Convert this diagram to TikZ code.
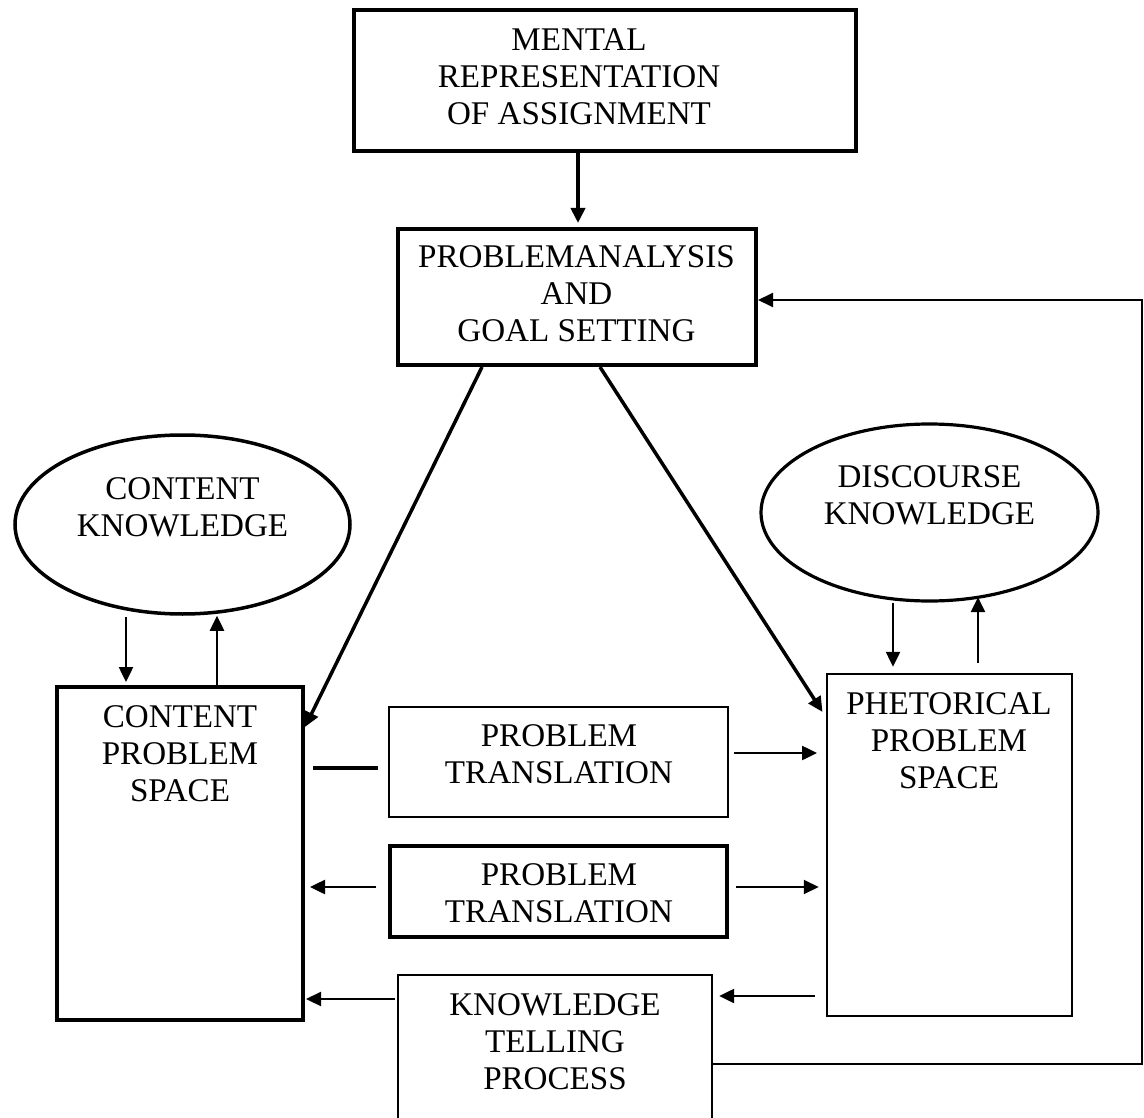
\documentclass[tikz,border=0pt]{standalone}
\usepackage{fontspec}
\setmainfont{Liberation Serif}
\usetikzlibrary{arrows.meta,shapes.geometric}
\begin{document}
\begin{tikzpicture}[x=1pt,y=-1pt,
  txt/.style={inner sep=0pt, align=center, font=\fontsize{33.1}{37}\selectfont},
  boxnode/.style={draw, rectangle, inner sep=0pt},
  ell/.style={draw, ellipse, inner sep=0pt, line width=3.5pt},
  arr/.style={-{Triangle[length=15pt,width=14pt]}},
]
\useasboundingbox (0,0) rectangle (1144,1118);
\clip (0,0) rectangle (1144,1118);

% boxes and ellipses
\node[boxnode, line width=4pt, minimum width=502pt, minimum height=141pt] (mr) at (605,80.5) {};
\node[txt] (mrt) at (579,76.5) {MENTAL\\REPRESENTATION\\OF ASSIGNMENT};

\node[boxnode, line width=4pt, minimum width=358pt, minimum height=136pt] (pa) at (577,297) {};
\node[txt] (pat) at (576.5,293.5) {PROBLEMANALYSIS\\AND\\GOAL SETTING};

\node[ell, minimum width=335pt, minimum height=179pt] (ck) at (182.5,524.5) {};
\node[txt] (ckt) at (182.5,507) {CONTENT\\KNOWLEDGE};

\node[ell, line width=3.2pt, minimum width=337pt, minimum height=177pt] (dk) at (929.5,512.5) {};
\node[txt] (dkt) at (929.5,495) {DISCOURSE\\KNOWLEDGE};

\node[boxnode, line width=4pt, minimum width=246pt, minimum height=333pt] (cps) at (180,853.5) {};
\node[txt] (cpst) at (180,753.5) {CONTENT\\PROBLEM\\SPACE};

\node[boxnode, line width=2.5pt, minimum width=245pt, minimum height=342pt] (rps) at (949.5,845) {};
\node[txt] (rpst) at (949,741) {PHETORICAL\\PROBLEM\\SPACE};

\node[boxnode, line width=2.2pt, minimum width=339pt, minimum height=110pt] (pt1) at (558.5,762) {};
\node[txt] (pt1t) at (559,754.5) {PROBLEM\\TRANSLATION};

\node[boxnode, line width=3.5pt, minimum width=337pt, minimum height=91pt] (pt2) at (558.5,891.5) {};
\node[txt] (pt2t) at (559,893) {PROBLEM\\TRANSLATION};

\node[boxnode, line width=2.3pt, minimum width=314pt, minimum height=165pt] (kt) at (555,1057.5) {};
\node[txt] (ktt) at (555,1041.5) {KNOWLEDGE\\TELLING\\PROCESS};

% helper coordinates
\coordinate (xa) at (578,0);
\coordinate (d1) at (482,0);
\coordinate (d2) at (0,727);
\coordinate (d3) at (600,0);
\coordinate (d4) at (0,717);
\coordinate (e1) at (126,0);
\coordinate (e2) at (217,0);
\coordinate (e3) at (893,0);
\coordinate (e4) at (978,0);
\coordinate (h1) at (0,768);
\coordinate (h2) at (0,753);
\coordinate (h3) at (0,887);
\coordinate (h4) at (0,999);
\coordinate (h5) at (0,996);
\coordinate (h6) at (0,1064);
\coordinate (fb) at (1142,300);

% connectors
\draw[arr, line width=4pt, shorten >=4pt] (mr.south -| xa) -- (pa.north -| xa);
\draw[arr, line width=3.5pt] (pa.south -| d1) -- (cps.east |- d2);
\draw[arr, line width=3.5pt, shorten >=6pt] (pa.south -| d3) -- (rps.west |- d4);

\draw[arr, line width=2.5pt, shorten <=1pt, shorten >=3pt] (ck.south -| e1) -- (cps.north -| e1);
\draw[arr, line width=2.5pt] (cps.north -| e2) -- (ck.south -| e2);
\draw[arr, line width=2.5pt, shorten >=6pt] (dk.south -| e3) -- (rps.north -| e3);
\draw[arr, line width=2.2pt, shorten <=10pt, shorten >=-5.5pt] (rps.north -| e4) -- (dk.south -| e4);

\draw[line width=4.5pt, shorten <=8pt, shorten >=10pt] (cps.east |- h1) -- (pt1.west |- h1);
\draw[arr, line width=2.5pt, shorten <=5pt, shorten >=8.75pt] (pt1.east |- h2) -- (rps.west |- h2);
\draw[arr, line width=2.5pt, shorten <=12pt, shorten >=5pt] (pt2.west |- h3) -- (cps.east |- h3);
\draw[arr, line width=2pt, shorten <=7pt, shorten >=7pt] (pt2.east |- h3) -- (rps.west |- h3);

\draw[arr, line width=2.2pt, shorten <=2pt, shorten >=1pt] (kt.west |- h4) -- (cps.east |- h4);
\draw[arr, line width=2.2pt, shorten <=11pt, shorten >=6pt] (rps.west |- h5) -- (kt.east |- h5);

\draw[arr, line width=2pt] (kt.east |- h6) -| (fb) -- (pa.east |- fb);
\end{tikzpicture}
\end{document}
